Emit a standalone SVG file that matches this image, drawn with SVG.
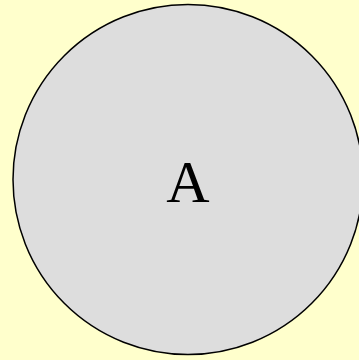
<svg xmlns="http://www.w3.org/2000/svg" width="359" height="360" viewBox="0 0 359 360">
<style>
.node{fill:#dddddd;stroke:#000000;stroke-width:1.5}
.lbl{font-family:"Liberation Serif","Times New Roman",serif;font-size:60px;fill:#000000;text-anchor:middle}
</style>
<rect x="0" y="0" width="359" height="360" fill="#ffffcc"/>
<g id="connectors"></g>
<g id="nodeA">
<circle class="node" cx="188" cy="179.5" r="175"/>
<text class="lbl" x="188" y="202">A</text>
</g>
</svg>
